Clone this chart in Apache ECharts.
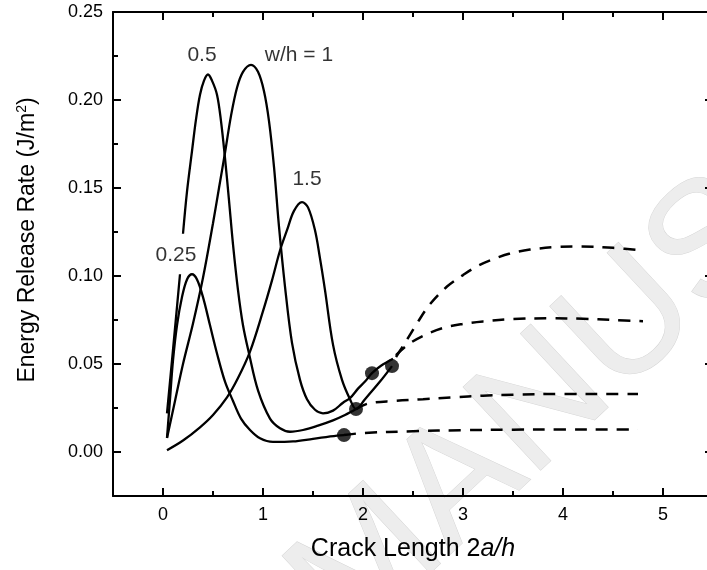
<!DOCTYPE html>
<html>
<head>
<meta charset="utf-8">
<script src="https://cdn.jsdelivr.net/npm/echarts@6/dist/echarts.min.js"></script>
<style>html,body{margin:0;padding:0;background:#fff}#c{width:707px;height:570px}</style>
</head>
<body>
<div id="c"></div>
<script>
// ---- tick values ----
const xMajor = [0, 1, 2, 3, 4, 5];
const xMinor = [0.5, 1.5, 2.5, 3.5, 4.5];
const yMajor = [0, 0.05, 0.10, 0.15, 0.20, 0.25];
const yMinor = [0.025, 0.075, 0.125, 0.175, 0.225];

// ---- w/h = 0.25 ----
const x025 = [0.04, 0.07, 0.10, 0.14, 0.19, 0.24, 0.29, 0.34, 0.40, 0.47, 0.54, 0.62, 0.70, 0.78, 0.87, 0.97, 1.10, 1.30, 1.50, 1.74, 1.81];
const y025 = [0.008, 0.030, 0.052, 0.072, 0.088, 0.098, 0.101, 0.098, 0.088, 0.072, 0.056, 0.040, 0.029, 0.019, 0.0125, 0.0078, 0.0057, 0.006, 0.0075, 0.0093, 0.0096];
const x025d = [1.81, 2.0, 2.5, 3.0, 3.5, 4.0, 4.5, 4.75];
const y025d = [0.0096, 0.0108, 0.0118, 0.0124, 0.0127, 0.0128, 0.0128, 0.0128];

// ---- w/h = 0.5 (gap where the "0.25" label sits) ----
const x05 = [0.04, 0.10, 0.17, 0.185, 0.20, 0.24, 0.29, 0.33, 0.37, 0.41, 0.45, 0.49, 0.54, 0.58, 0.62, 0.66, 0.70, 0.75, 0.80, 0.86, 0.95, 1.07, 1.17, 1.27, 1.40, 1.55, 1.70, 1.82, 1.93];
const y05 = [0.022, 0.058, 0.101, null, 0.124, 0.148, 0.171, 0.189, 0.203, 0.211, 0.2145, 0.211, 0.203, 0.188, 0.167, 0.143, 0.118, 0.092, 0.072, 0.056, 0.035, 0.019, 0.0135, 0.0115, 0.0125, 0.015, 0.018, 0.021, 0.0244];
const x05d = [1.93, 2.05, 2.3, 2.6, 2.9, 3.2, 3.5, 4.0, 4.5, 4.75];
const y05d = [0.0244, 0.0275, 0.029, 0.030, 0.031, 0.032, 0.0325, 0.033, 0.033, 0.033];

// ---- w/h = 1 ----
const x1 = [0.04, 0.12, 0.20, 0.30, 0.40, 0.50, 0.56, 0.62, 0.68, 0.74, 0.80, 0.88, 0.95, 1.01, 1.06, 1.11, 1.16, 1.22, 1.29, 1.37, 1.44, 1.52, 1.60, 1.70, 1.80, 1.87, 1.95, 2.02, 2.09, 2.18, 2.30];
const y1 = [0.008, 0.029, 0.050, 0.073, 0.099, 0.130, 0.150, 0.170, 0.191, 0.207, 0.216, 0.220, 0.216, 0.205, 0.188, 0.162, 0.128, 0.094, 0.062, 0.041, 0.030, 0.024, 0.022, 0.0235, 0.028, 0.0306, 0.036, 0.040, 0.0448, 0.049, 0.053];
const x1d = [2.33, 2.45, 2.6, 2.8, 3.0, 3.2, 3.5, 3.87, 4.2, 4.5, 4.8];
const y1d = [0.055, 0.061, 0.066, 0.0705, 0.0728, 0.0742, 0.0755, 0.076, 0.0757, 0.075, 0.0743];

// ---- w/h = 1.5 ----
const x15 = [0.04, 0.20, 0.37, 0.50, 0.64, 0.75, 0.87, 1.00, 1.09, 1.17, 1.24, 1.31, 1.39, 1.45, 1.52, 1.57, 1.62, 1.70, 1.79, 1.87, 1.93, 2.02, 2.17, 2.29];
const y15 = [0.001, 0.0065, 0.014, 0.021, 0.031, 0.042, 0.057, 0.080, 0.0975, 0.1145, 0.126, 0.137, 0.142, 0.139, 0.126, 0.110, 0.092, 0.061, 0.041, 0.030, 0.0244, 0.030, 0.040, 0.0488];
const x15d = [2.33, 2.42, 2.55, 2.67, 2.84, 3.0, 3.14, 3.3, 3.47, 3.67, 3.94, 4.17, 4.5, 4.8];
const y15d = [0.054, 0.062, 0.074, 0.084, 0.094, 0.1005, 0.1055, 0.1095, 0.1128, 0.115, 0.1165, 0.1168, 0.116, 0.1145];

// ---- end-of-solid markers ----
const dotX = [1.81, 1.93, 2.09, 2.29];
const dotY = [0.0096, 0.0244, 0.0448, 0.0488];

// ---- curve annotations ----
const noteText = ['0.25', '0.5', 'w/h = 1', '1.5'];
const noteX = [0.13, 0.39, 1.36, 1.44];
const noteY = [0.112, 0.2256, 0.2256, 0.155];

const pairs = (xs, ys) => xs.map((x, i) => [x, ys[i] === null ? '-' : ys[i]]);
const FONT = 'Liberation Sans, Arial, sans-serif';

function solid(name, xs, ys) {
  return { name, type: 'line', data: pairs(xs, ys), smooth: 0.35, showSymbol: false, symbol: 'none',
    connectNulls: false, lineStyle: { color: '#000', width: 2.3 }, z: 5, silent: true };
}
function dashed(name, xs, ys) {
  return { name, type: 'line', data: pairs(xs, ys), smooth: 0.35, showSymbol: false, symbol: 'none',
    lineStyle: { color: '#000', width: 2.5, type: [12, 9] }, z: 5, silent: true };
}

function xAx(pos, ticks, len, line, labels, extra) {
  return Object.assign({
    type: 'value', position: pos, min: -0.5, max: 5.5,
    axisLine: { show: line, onZero: false, lineStyle: { color: '#000', width: 2 } },
    axisTick: { show: true, inside: true, length: len, customValues: ticks, lineStyle: { color: '#000', width: 2 } },
    axisLabel: { show: labels, customValues: ticks, color: '#000', fontSize: 18, fontFamily: FONT, margin: 10,
      formatter: v => String(Math.round(v)) },
    splitLine: { show: false }
  }, extra || {});
}
function yAx(pos, ticks, len, line, labels, extra) {
  return Object.assign({
    type: 'value', position: pos, min: -0.025, max: 0.25,
    axisLine: { show: line, onZero: false, lineStyle: { color: '#000', width: 2 } },
    axisTick: { show: true, inside: true, length: len, customValues: ticks, lineStyle: { color: '#000', width: 2 } },
    axisLabel: { show: labels, customValues: ticks, color: '#000', fontSize: 18, fontFamily: FONT, margin: 10,
      formatter: v => v.toFixed(2) },
    splitLine: { show: false }
  }, extra || {});
}

const chart = echarts.init(document.getElementById('c'), null, { renderer: 'canvas' });
chart.setOption({
  backgroundColor: '#fff',
  animation: false,
  grid: { left: 113, top: 12, width: 600, height: 484, containLabel: false, outerBoundsMode: 'none' },
  xAxis: [
    xAx('bottom', xMajor, 8, true, true, {
      name: '{n|Crack Length 2}{i|a/h}', nameLocation: 'middle', nameGap: 41,
      nameTextStyle: { rich: {
        n: { fontSize: 25, fontFamily: FONT, color: '#000' },
        i: { fontSize: 25, fontFamily: FONT, color: '#000', fontStyle: 'italic' } } }
    }),
    xAx('bottom', xMinor, 5, false, false),
    xAx('top', xMajor, 8, true, false),
    xAx('top', xMinor, 5, false, false)
  ],
  yAxis: [
    yAx('left', yMajor, 8, true, true, {
      name: '{n|Energy Release Rate (J/m}{s|2}{n|)}', nameLocation: 'middle', nameGap: 72, nameRotate: 90,
      nameTextStyle: { padding: [0, 0, 0, 28], rich: {
        n: { fontSize: 23, fontFamily: FONT, color: '#000' },
        s: { fontSize: 14, fontFamily: FONT, color: '#000', padding: [0, 0, 12, 0] } } }
    }),
    yAx('left', yMinor, 5, false, false),
    yAx('right', yMajor, 8, true, false),
    yAx('right', yMinor, 5, false, false)
  ],
  graphic: [{
    type: 'text', z: -10, silent: true,
    x: 375, y: 675, rotation: Math.PI * 43 / 180,
    style: { text: 'MANUSCRIPT', fontSize: 165, fontFamily: FONT, fill: '#ededed', stroke: '#d6d6d6', lineWidth: 1,
      align: 'left', verticalAlign: 'bottom' }
  }],
  series: [
    solid('wh025', x025, y025), dashed('wh025d', x025d, y025d),
    solid('wh05', x05, y05), dashed('wh05d', x05d, y05d),
    solid('wh1', x1, y1), dashed('wh1d', x1d, y1d),
    solid('wh15', x15, y15), dashed('wh15d', x15d, y15d),
    { type: 'scatter', data: pairs(dotX, dotY), symbol: 'circle', symbolSize: 14,
      itemStyle: { color: '#000' }, z: 6, silent: true },
    { type: 'scatter', data: noteX.map((x, i) => ({ value: [x, noteY[i]], label: { formatter: noteText[i] } })),
      symbolSize: 0, silent: true, z: 7,
      label: { show: true, position: 'inside', color: '#000', fontSize: 21, fontFamily: FONT } }
  ]
});
</script>
</body>
</html>
